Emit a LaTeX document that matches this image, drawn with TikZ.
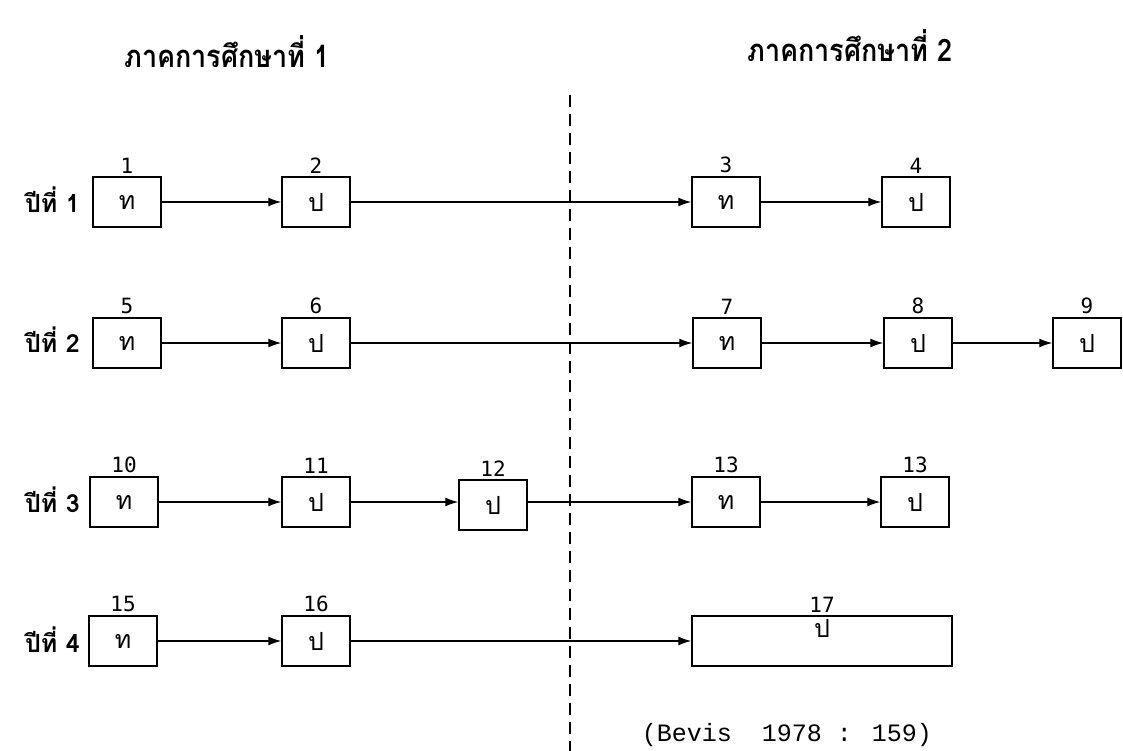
\documentclass[tikz,border=0pt]{standalone}
\usepackage{fontspec}
\newfontfamily\thaifont[Script=Thai]{Loma}
\newfontfamily\numfont{DejaVu Sans Mono}
\newfontfamily\citefont{Liberation Mono}
\usetikzlibrary{arrows.meta}
\tikzset{
  course/.style={draw, line width=1.5pt, minimum width=68pt, minimum height=50pt,
    inner sep=0pt, font=\thaifont\fontsize{25}{25}\selectfont},
  num/.style={font=\numfont\fontsize{21}{21}\selectfont, inner sep=3pt},
  rowlabel/.style={anchor=east, font=\thaifont\bfseries\fontsize{25}{25}\selectfont, inner sep=0pt},
  head/.style={font=\thaifont\bfseries\fontsize{27}{27}\selectfont, inner sep=0pt, yscale=1.15},
  flow/.style={line width=1.3pt, -{Latex[length=13pt,width=9pt]}},
  divider/.style={line width=1.5pt, dash pattern=on 12pt off 7pt}
}
\begin{document}
\begin{tikzpicture}[x=1pt, y=-1pt]
\useasboundingbox (0,0) rectangle (1123,751);

% semester headings
\node[head] (h1) at (227,52) {ภาคการศึกษาที่ 1};
\node[head] (h2) at (850,46) {ภาคการศึกษาที่ 2};

% semester divider
\coordinate (dtop) at (570,95);
\coordinate (dbot) at (570,751);
\draw[divider] (dtop) -- (dbot);

% year labels
\node[rowlabel] (y1) at (80,200) {ปีที่ 1};
\node[rowlabel] (y2) at (80,340) {ปีที่ 2};
\node[rowlabel] (y3) at (80,500) {ปีที่ 3};
\node[rowlabel] (y4) at (80,640) {ปีที่ 4};

% year 1
\node[course] (b1) at (127,202) {ท};
\node[course] (b2) at (316,202) {ป};
\node[course] (b3) at (726,202) {ท};
\node[course] (b4) at (916,202) {ป};
% year 2
\node[course] (b5) at (127,343) {ท};
\node[course] (b6) at (316,343) {ป};
\node[course] (b7) at (727,343) {ท};
\node[course] (b8) at (918,343) {ป};
\node[course] (b9) at (1087,343) {ป};
% year 3
\node[course] (b10) at (124,502) {ท};
\node[course] (b11) at (316,502) {ป};
\node[course] (b12) at (493,505) {ป};
\node[course] (b13) at (726,502) {ท};
\node[course] (b14) at (915,502) {ป};
% year 4
\node[course] (b15) at (123,641) {ท};
\node[course] (b16) at (316,641) {ป};
\node[course, minimum width=260pt, label={[anchor=north, inner sep=4pt, font=\thaifont\fontsize{25}{25}\selectfont]north:ป}] (b17) at (822,641) {};

% course numbers
\foreach \b/\n in {b1/1,b2/2,b3/3,b4/4,b5/5,b6/6,b7/7,b8/8,b9/9,
                   b10/10,b11/11,b12/12,b13/13,b14/13,b15/15,b16/16,b17/17}
  \node[num, anchor=south] (n\b) at (\b.north) {\n};

% flow between courses
\draw[flow] (b1) -- (b2);
\draw[flow] (b2) -- (b3);
\draw[flow] (b3) -- (b4);
\draw[flow] (b5) -- (b6);
\draw[flow] (b6) -- (b7);
\draw[flow] (b7) -- (b8);
\draw[flow] (b8) -- (b9);
\draw[flow] (b10) -- (b11);
\draw[flow] (b11.east) -- (b12.west |- b11.east);
\draw[flow] (b12.east |- b13.west) -- (b13);
\draw[flow] (b13) -- (b14);
\draw[flow] (b15) -- (b16);
\draw[flow] (b16) -- (b17);

% source
\node[font=\citefont\fontsize{25}{25}\selectfont, inner sep=0pt] (src) at (787,735) {(Bevis\ \ 1978 : 159)};
\end{tikzpicture}
\end{document}
